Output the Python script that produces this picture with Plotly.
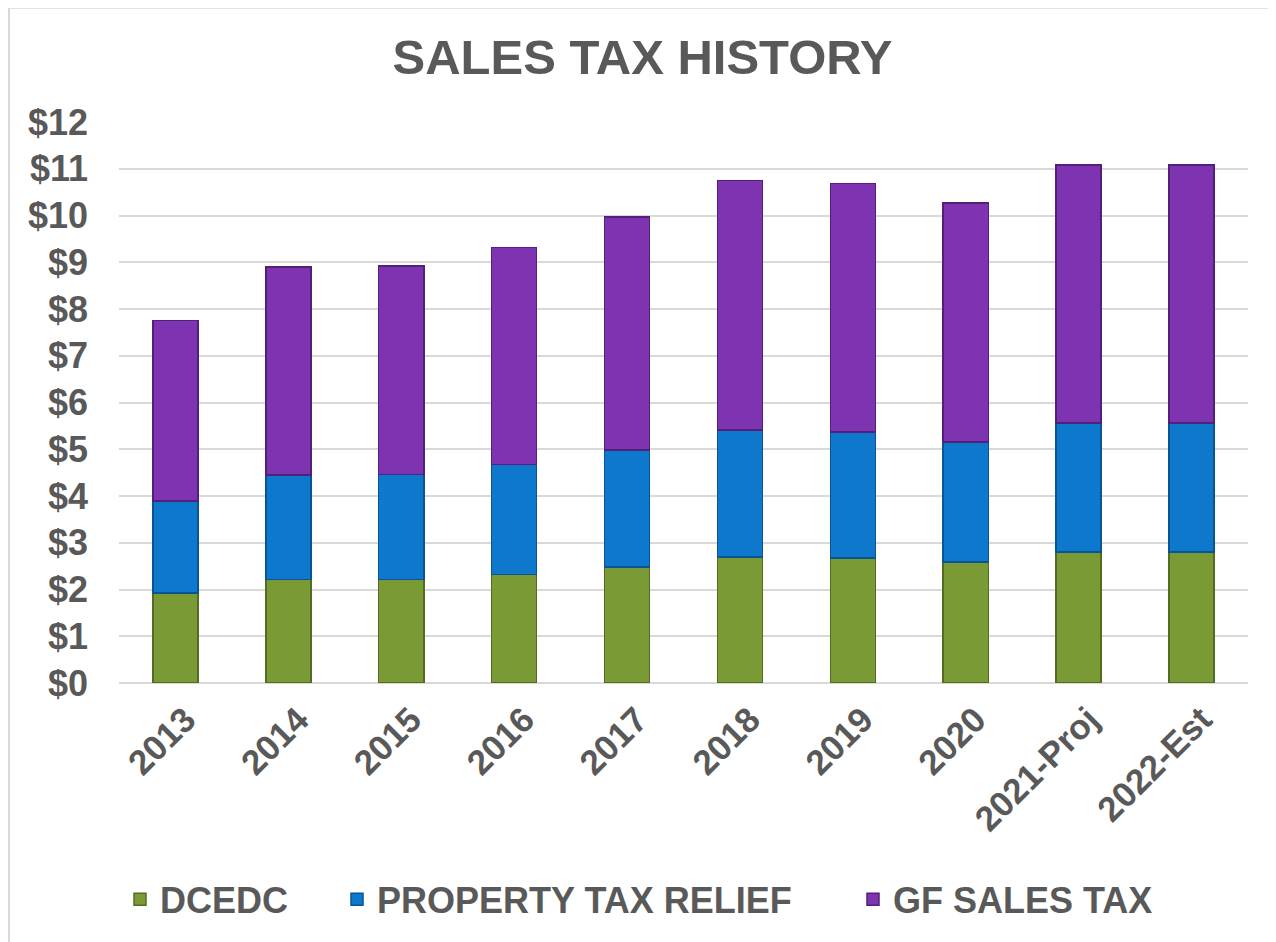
import plotly.graph_objects as go

categories = ["2013", "2014", "2015", "2016", "2017", "2018", "2019", "2020", "2021-Proj", "2022-Est"]
dcedc = [1.93, 2.21, 2.21, 2.32, 2.48, 2.69, 2.67, 2.59, 2.80, 2.80]
property_tax_relief = [1.96, 2.24, 2.25, 2.35, 2.50, 2.72, 2.70, 2.57, 2.76, 2.76]
gf_sales_tax = [3.86, 4.45, 4.46, 4.65, 4.99, 5.34, 5.31, 5.11, 5.52, 5.52]
y_ticks = list(range(0, 13))
y_tick_labels = ["<b>$" + str(v) + "</b>" for v in y_ticks]
x_tick_labels = ["<b>" + c + "</b>" for c in categories]

# page is offset by 8px body margin
W, H = 1268, 934
L, R, T, B = 111, 28, 114, 255
pw = W - L - R
ph = H - T - B

fig = go.Figure()
series = [
    ("DCEDC", dcedc, "#7A9A36", "#546C22", "legend", 112),
    ("PROPERTY TAX RELIEF", property_tax_relief, "#0E79CC", "#095493", "legend2", 329),
    ("GF SALES TAX", gf_sales_tax, "#7E34B0", "#52207A", "legend3", 845),
]
leg_y = (H - B - 897) / ph
legends = {}
for name, vals, col, edge, leg, lx in series:
    fig.add_trace(go.Bar(
        x=categories, y=vals, name="<b>" + name + "</b>", legend=leg,
        marker=dict(color=col, line=dict(color=edge, width=1.5)),
    ))
    legends[leg] = dict(orientation="h", x=(lx - L) / pw, xanchor="left",
                        y=leg_y, yanchor="middle", bgcolor="rgba(0,0,0,0)",
                        font=dict(size=36, color="#595959"))

fig.update_layout(
    width=W, height=H,
    barmode="stack", bargap=0.6,
    margin=dict(l=L, r=R, t=T, b=B),
    paper_bgcolor="white", plot_bgcolor="white",
    font=dict(family="Liberation Sans, Arial, sans-serif", color="#595959"),
    title=dict(text="<b>SALES TAX HISTORY</b>", x=634.5 / W, xanchor="center",
               y=1 - 48.5 / H, yanchor="middle", yref="container",
               font=dict(size=49, color="#595959")),
    xaxis=dict(tickangle=-45, tickfont=dict(size=35, color="#595959"),
               tickvals=categories, ticktext=x_tick_labels,
               ticklabelshift=10, ticklabelstandoff=8,
               showgrid=False, showline=False, ticks=""),
    yaxis=dict(range=[0, 12], tickvals=y_ticks, ticktext=y_tick_labels,
               tickfont=dict(size=36, color="#595959"),
               showgrid=True, gridcolor="#D9D9D9", gridwidth=2,
               zeroline=True, zerolinecolor="#D9D9D9", zerolinewidth=2,
               ticks="", ticklabelstandoff=30),
    showlegend=True,
    **legends,
)

# light border along top and left of the chart area
fig.add_shape(type="rect", xref="paper", yref="paper",
              x0=(1 - L) / pw, x1=1.2, y0=-0.6, y1=(H - B + 1) / ph,
              line=dict(color="#D9D9D9", width=2), layer="below")

fig.write_html("out.html")
